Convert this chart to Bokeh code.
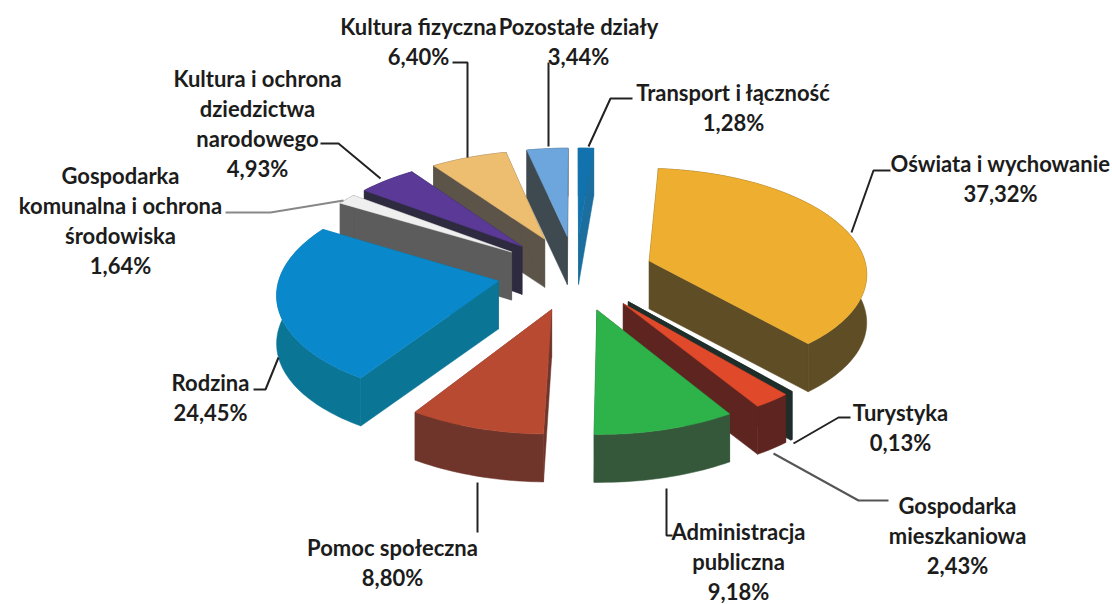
import math
from bokeh.plotting import figure
from bokeh.embed import file_html
from bokeh.resources import INLINE
from bokeh.core.properties import value

# Data
categories = ["Transport i łączność", "Oświata i wychowanie", "Turystyka", "Gospodarka mieszkaniowa",
              "Administracja publiczna", "Pomoc społeczna", "Rodzina",
              "Gospodarka komunalna i ochrona środowiska", "Kultura i ochrona dziedzictwa narodowego",
              "Kultura fizyczna", "Pozostałe działy"]
values = [1.28, 37.32, 0.13, 2.43, 9.18, 8.80, 24.45, 1.64, 4.93, 6.40, 3.44]
value_labels = ["1,28%", "37,32%", "0,13%", "2,43%", "9,18%", "8,80%", "24,45%", "1,64%", "4,93%", "6,40%", "3,44%"]

# Styles
top_colors = ["#1272AE", "#EEAE2F", "#1E2E2A", "#E04A2B", "#2EB24A", "#B84A32", "#0A88CC",
              "#EFEFEF", "#5A3A96", "#EDBD70", "#6CA6DC"]
wall_colors = ["#1B6E9E", "#5F4D25", "#1E2E2A", "#5E2420", "#35583A", "#6F352B", "#0B7596",
               "#5C5C5C", "#2E2A40", "#5C5448", "#3E4A50"]

# Label layout: per category, wrapped lines, centre x, first line y
label_lines = [["Transport i łączność"], ["Oświata i wychowanie"], ["Turystyka"], ["Gospodarka", "mieszkaniowa"],
               ["Administracja", "publiczna"], ["Pomoc społeczna"], ["Rodzina"],
               ["Gospodarka", "komunalna i ochrona", "środowiska"], ["Kultura i ochrona", "dziedzictwa", "narodowego"],
               ["Kultura fizyczna"], ["Pozostałe działy"]]
label_x = [733, 1000, 900, 957, 738, 392, 210, 120, 257, 418, 578]
label_y = [92, 163, 412, 505, 531, 547, 382, 175, 78, 26, 26]
LINE_H = 30

leaders = [
    ([632, 610, 588], [98, 98, 146], "#222222"),
    ([890, 873, 851], [170, 170, 232], "#222222"),
    ([850, 838, 793], [417, 417, 443], "#222222"),
    ([888, 858, 773], [500, 500, 453], "#555555"),
    ([666, 666, 672], [488, 535, 535], "#222222"),
    ([477, 477], [482, 532], "#222222"),
    ([278, 265, 253], [357, 389, 389], "#222222"),
    ([225, 270, 343], [212, 212, 200], "#888888"),
    ([320, 338, 380], [143, 143, 178], "#222222"),
    ([452, 467, 467], [62, 62, 157], "#222222"),
    ([548, 548], [62, 146], "#222222"),
]

# Pie projection
CX, CY = 575, 272
R, RY = 218, 104
PERSP = 0.10
EXPLODE = 0.36
DEPTH = 48


def project(px, py, drop=0.0):
    s = 1 / (1 + PERSP * py)
    return CX + R * px * s, CY - RY * py * s + drop


p = figure(width=1112, height=604, x_range=(0, 1112), y_range=(604, 0),
           output_backend="svg", toolbar_location=None, min_border=0,
           outline_line_color=None, background_fill_color="white")
p.axis.visible = False
p.grid.visible = False

total = sum(values)
slices = []
cum = 0.0
for i, v in enumerate(values):
    a0 = cum / total * 2 * math.pi
    cum += v
    a1 = cum / total * 2 * math.pi
    slices.append((math.cos((a0 + a1) / 2), i, a0, a1))
slices.sort(reverse=True)

for vm, i, a0, a1 in slices:
    am = (a0 + a1) / 2
    ox, oy = EXPLODE * math.sin(am), EXPLODE * math.cos(am)
    n = max(3, int((a1 - a0) * 40))
    ang = [a0 + (a1 - a0) * j / n for j in range(n + 1)]
    rim = [(ox + math.sin(a), oy + math.cos(a)) for a in ang]
    apex = (ox, oy)

    def pts(seq, drop=0.0):
        out = [project(x, y, drop) for x, y in seq]
        return [q[0] for q in out], [q[1] for q in out]

    for edge in (rim[0], rim[-1]):
        xa, ya = pts([apex, edge])
        xb, yb = pts([apex, edge], DEPTH)
        p.patch(xa + xb[::-1], ya + yb[::-1], fill_color=wall_colors[i], line_color=wall_colors[i], line_width=0.5)
    xa, ya = pts(rim)
    xb, yb = pts(rim, DEPTH)
    p.patch(xa + xb[::-1], ya + yb[::-1], fill_color=wall_colors[i], line_color=wall_colors[i], line_width=0.5)
    xt, yt = pts([apex] + rim)
    p.patch(xt, yt, fill_color=top_colors[i], line_color=top_colors[i], line_width=0.5)

for xs, ys, col in leaders:
    p.line(xs, ys, line_color=col, line_width=2)

tx, ty, tt = [], [], []
for lines, val, x, y in zip(label_lines, value_labels, label_x, label_y):
    for k, t in enumerate(lines + [val]):
        tx.append(x)
        ty.append(y + k * LINE_H)
        tt.append(t)
p.text(tx, ty, text=tt, text_font=value("Lato"), text_font_style="bold", text_font_size="22px",
       text_align="center", text_baseline="middle", text_color="#1c1c1c")

open("out.html", "w").write(file_html(p, INLINE))
